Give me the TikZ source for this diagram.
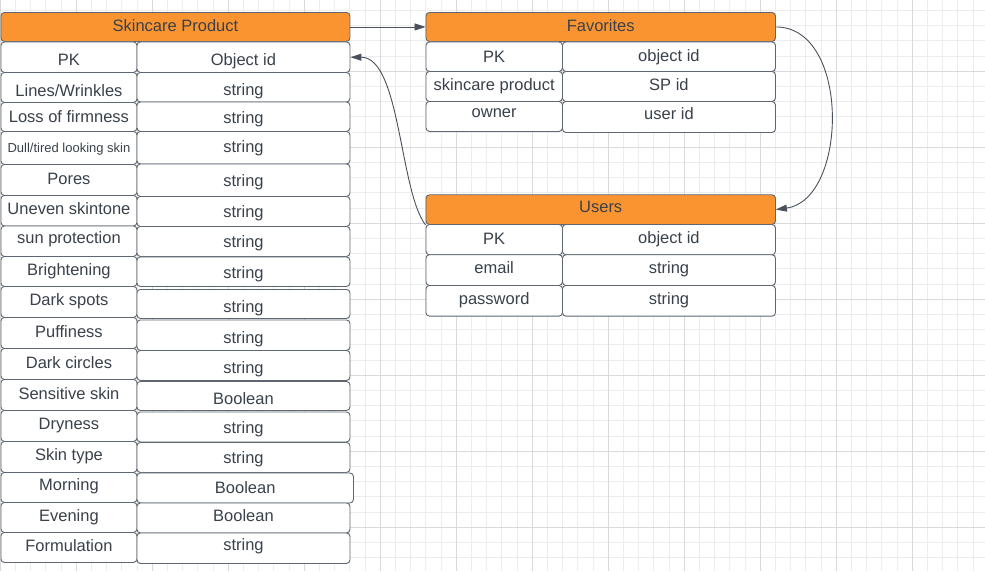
\documentclass[tikz,border=0pt]{standalone}
\usepackage{fontspec}
\setmainfont{Liberation Sans}
\usetikzlibrary{arrows.meta}

\definecolor{ink}{HTML}{3A414A}
\definecolor{edge}{HTML}{5F6670}
\definecolor{hdr}{HTML}{FA9431}
\definecolor{wire}{HTML}{4A515B}
\definecolor{gridminor}{HTML}{EDEDED}
\definecolor{gridmajor}{HTML}{DADADA}

\begin{document}
\begin{tikzpicture}[x=1pt,y=-1pt,
  % a table cell: width, height; text baseline set by bl
  box/.style 2 args={draw=edge, fill=white, line width=0.9pt, rounded corners=3.5pt,
    inner sep=0pt, anchor=north west, minimum width=#1pt, minimum height=#2pt,
    text=ink, font=\fontsize{16.5}{19}\selectfont},
  head/.style 2 args={box={#1}{#2}, fill=hdr},
  % baseline offset below the cell centre
  bl/.code={\pgfmathsetmacro\blh{2*#1+2.5}\pgfkeysalso{text height/.expanded=\blh pt, text depth=2.5pt}},
  small/.style={font=\fontsize{13}{15}\selectfont},
  minorgrid/.style={draw=gridminor, line width=0.9pt},
  majorgrid/.style={draw=gridmajor, line width=1pt},
  link/.style={draw=wire, line width=0.9pt, -{Triangle[length=11pt,width=7pt]}},
]
\useasboundingbox (0,0) rectangle (985,571);

% background grid
\foreach \k in {0,...,64} \draw[minorgrid] ({0.3+15.2*\k},0) -- ({0.3+15.2*\k},571);
\foreach \k in {0,...,37} \draw[minorgrid] (0,{-4.7+15.2*\k}) -- (985,{-4.7+15.2*\k});
\foreach \k in {0,...,12} \draw[majorgrid] ({0.3+76*\k},0) -- ({0.3+76*\k},571);
\foreach \k in {0,...,7} \draw[majorgrid] (0,{-4.7+76*\k}) -- (985,{-4.7+76*\k});

% ---------- Skincare Product ----------
\node[head={349}{29}, bl=4.2] (sp) at (0.5,12) {Skincare Product};

\node[box={136}{30.5}, bl=8.25] (spPK)      at (0.5,41.5)  {PK};
\node[box={136}{30},   bl=9]    (spLines)   at (0.5,72)    {Lines/Wrinkles};
\node[box={136}{29},   bl=5.2]  (spLoss)    at (0.5,102)   {Loss of firmness};
\node[box={136}{33},   bl=4.8, small] (spDull) at (0.5,131) {Dull/tired looking skin};
\node[box={136}{31},   bl=4.5]  (spPores)   at (0.5,164)   {Pores};
\node[box={136}{30.5}, bl=4]    (spUneven)  at (0.5,195)   {Uneven skintone};
\node[box={136}{30.5}, bl=2]    (spSun)     at (0.5,225.5) {sun protection};
\node[box={136}{30},   bl=3.7]  (spBright)  at (0.5,256)   {Brightening};
\node[box={136}{31},   bl=3.8]  (spSpots)   at (0.5,286)   {Dark spots};
\node[box={136}{31},   bl=4.5]  (spPuff)    at (0.5,317)   {Puffiness};
\node[box={136}{31},   bl=4.5]  (spCircles) at (0.5,348)   {Dark circles};
\node[box={136}{31},   bl=4.8]  (spSens)    at (0.5,379)   {Sensitive skin};
\node[box={136}{31},   bl=3.8]  (spDry)     at (0.5,410)   {Dryness};
\node[box={136}{31},   bl=3.8]  (spType)    at (0.5,441)   {Skin type};
\node[box={136}{30},   bl=3.3]  (spMorn)    at (0.5,472)   {Morning};
\node[box={136}{30},   bl=4.3]  (spEve)     at (0.5,502)   {Evening};
\node[box={136}{30},   bl=4.3]  (spForm)    at (0.5,532)   {Formulation};

\node[box={213}{30.5}, bl=8.25] (spPKr)      at (136.5,41.5)  {Object id};
\node[box={213}{29.5}, bl=8]    (spLinesr)   at (136.5,72)    {string};
\node[box={213}{29.5}, bl=7]    (spLossr)    at (136.5,101.5) {string};
\node[box={213}{32.5}, bl=5.2]  (spDullr)    at (136.5,131)   {string};
\node[box={213}{32.5}, bl=6]    (spPoresr)   at (136.5,163.5) {string};
\node[box={213}{30},   bl=6.2]  (spUnevenr)  at (136.5,196)   {string};
\node[box={213}{30},   bl=6.2]  (spSunr)     at (136.5,226)   {string};
\node[box={213}{29.5}, bl=7]    (spBrightr)  at (136.5,256.5) {string};
\node[box={213}{29},   bl=9]    (spSpotsr)   at (136.5,289)   {string};
\node[box={213}{30.5}, bl=8.4]  (spPuffr)    at (136.5,319.5) {string};
\node[box={213}{30},   bl=8.2]  (spCirclesr) at (136.5,350)   {string};
\node[box={213}{29},   bl=8.8]  (spSensr)    at (136.5,381)   {Boolean};
\node[box={213}{30},   bl=7]    (spDryr)     at (136.5,411.5) {string};
\node[box={213}{30},   bl=6.2]  (spTyper)    at (136.5,442)   {string};
\node[box={216.5}{30}, bl=5.2]  (spMornr)    at (136.5,472.5) {Boolean};
\node[box={213}{30},   bl=3.8]  (spEver)     at (136.5,502.5) {Boolean};
\node[box={213}{30.5}, bl=2.5]  (spFormr)    at (136.5,532.5) {string};

% ---------- Favorites ----------
\node[head={349.5}{29}, bl=4.5] (fav) at (425.5,12) {Favorites};

\node[box={136.5}{29.5}, bl=5.75] (favPK)   at (425.5,41.5) {PK};
\node[box={136.5}{30},   bl=4.3]  (favSP)   at (425.5,71)   {skincare product};
\node[box={136.5}{30},   bl=1]    (favOwn)  at (425.5,101)  {owner};
\node[box={213}{29.5},   bl=5.25] (favPKr)  at (562,41.5)   {object id};
\node[box={213}{30},     bl=4.3]  (favSPr)  at (562,71)     {SP id};
\node[box={213}{31},     bl=2.2]  (favOwnr) at (562,101)    {user id};

% ---------- Users ----------
\node[head={349.5}{29.7}, bl=2.9] (users) at (425.5,194.3) {Users};

\node[box={136.5}{30.3}, bl=5.2]  (uPK)     at (425.5,224)   {PK};
\node[box={136.5}{30.7}, bl=3.35] (uEmail)  at (425.5,254.3) {email};
\node[box={136.5}{30.7}, bl=3.35] (uPass)   at (425.5,285)   {password};
\node[box={213}{30.3},   bl=4]    (uPKr)    at (562,224)     {object id};
\node[box={213}{30.7},   bl=3.5]  (uEmailr) at (562,254.3)   {string};
\node[box={213}{30.7},   bl=3.5]  (uPassr)  at (562,285)     {string};

% ---------- relations ----------
\draw[link] (sp.east) -- (fav.west);
\draw[link] (fav.east) .. controls +(75,0) and +(72,-10) .. (users.east);
\draw[link] (users.south west) .. controls +(-26,-34) and +(50,0) .. (spPKr.east);

\end{tikzpicture}
\end{document}
